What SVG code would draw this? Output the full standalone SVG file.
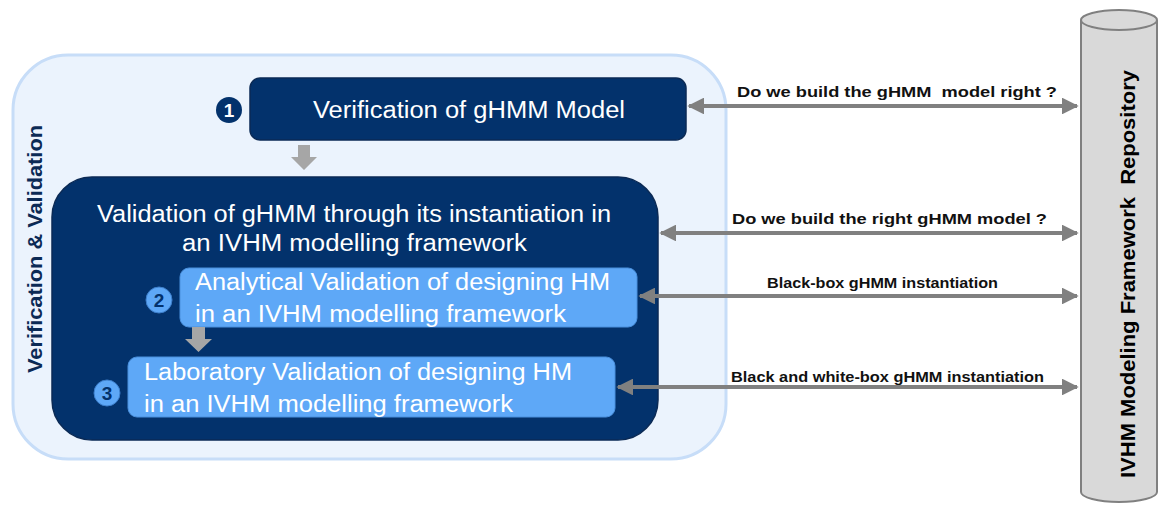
<svg xmlns="http://www.w3.org/2000/svg" width="1161" height="505" viewBox="0 0 1161 505">
<style>
.dark{fill:#03326c;stroke:#0b2a55;stroke-width:1.5}
.light{fill:#5ea8f7;stroke:#4a90dd;stroke-width:1}
.wt{font-family:"Liberation Sans",Arial,sans-serif;font-size:23px;fill:#ffffff}
.lbl{font-family:"Liberation Sans",Arial,sans-serif;font-size:15px;font-weight:bold;fill:#111111}
.conn{stroke:#808080;stroke-width:4;fill:none;marker-start:url(#ah);marker-end:url(#ah)}
.down{fill:#a6a6a6}
.num{font-family:"Liberation Sans",Arial,sans-serif;font-size:19px;font-weight:bold;text-anchor:middle}
</style>
<defs>
<marker id="ah" viewBox="0 0 10 10" refX="9" refY="5" markerWidth="4.2" markerHeight="4.2" orient="auto-start-reverse" markerUnits="strokeWidth">
<path d="M0,0 L10,5 L0,10 z" fill="#808080"/>
</marker>
</defs>
<rect width="1161" height="505" fill="#ffffff"/>
<g id="container">
<rect x="13" y="55" width="713" height="404" rx="55" ry="55" fill="#ebf3fd" stroke="#c7ddf8" stroke-width="3"/>
<text transform="translate(42,249) rotate(-90)" text-anchor="middle" font-family="Liberation Sans,Arial,sans-serif" font-size="20" font-weight="bold" fill="#0b2a55" textLength="248" lengthAdjust="spacingAndGlyphs">Verification &amp; Validation</text>
</g>
<g id="repository">
<path d="M1081,20 L1081,492 A38,10 0 0 0 1157,492 L1157,20" fill="#d9d9d9" stroke="#808080" stroke-width="2"/>
<ellipse cx="1119" cy="20" rx="38" ry="10" fill="#d9d9d9" stroke="#808080" stroke-width="2"/>
<text transform="translate(1135,274) rotate(-90)" text-anchor="middle" font-family="Liberation Sans,Arial,sans-serif" font-size="20" font-weight="bold" fill="#000000" textLength="408" lengthAdjust="spacingAndGlyphs" xml:space="preserve">IVHM Modeling Framework  Repository</text>
</g>
<g id="node1">
<rect class="dark" x="250" y="78" width="436" height="62" rx="10"/>
<text class="wt" x="313" y="118" textLength="312" lengthAdjust="spacingAndGlyphs">Verification of gHMM Model</text>
<circle cx="229" cy="110" r="13" fill="#03326c"/>
<text class="num" x="229" y="117" fill="#ffffff">1</text>
</g>
<g id="node-validation">
<rect class="dark" x="52" y="177" width="606" height="263" rx="40"/>
<text class="wt" x="97" y="222" textLength="514" lengthAdjust="spacingAndGlyphs">Validation of gHMM through its instantiation in</text>
<text class="wt" x="182" y="251" textLength="345" lengthAdjust="spacingAndGlyphs">an IVHM modelling framework</text>
</g>
<g id="node2">
<rect class="light" x="180" y="268" width="457" height="59" rx="9"/>
<text class="wt" x="195" y="290" textLength="415" lengthAdjust="spacingAndGlyphs">Analytical Validation of designing HM</text>
<text class="wt" x="195" y="322" textLength="371" lengthAdjust="spacingAndGlyphs">in an IVHM modelling framework</text>
<circle cx="159" cy="300" r="13" fill="#5ea8f7" stroke="#3d7fcc" stroke-width="1"/>
<text class="num" x="159" y="307" fill="#03326c">2</text>
</g>
<g id="node3">
<rect class="light" x="128" y="357" width="487" height="60" rx="9"/>
<text class="wt" x="144" y="380" textLength="428" lengthAdjust="spacingAndGlyphs">Laboratory Validation of designing HM</text>
<text class="wt" x="144" y="412" textLength="369" lengthAdjust="spacingAndGlyphs">in an IVHM modelling framework</text>
<circle cx="107" cy="393" r="13" fill="#5ea8f7" stroke="#3d7fcc" stroke-width="1"/>
<text class="num" x="107" y="400" fill="#03326c">3</text>
</g>
<g id="connectors">
<path class="down" d="M298,145 L310,145 L310,157 L317,157 L304,170 L291,157 L298,157 z"/>
<path class="down" d="M192,327 L205,327 L205,339 L212,339 L198.5,352 L185,339 L192,339 z"/>
<line class="conn" x1="689" y1="106" x2="1077" y2="106"/>
<line class="conn" x1="661" y1="233" x2="1077" y2="233"/>
<line class="conn" x1="640" y1="296" x2="1077" y2="296"/>
<line class="conn" x1="618" y1="387" x2="1077" y2="387"/>
<text class="lbl" x="737" y="97" textLength="320" lengthAdjust="spacingAndGlyphs" xml:space="preserve">Do we build the gHMM  model right ?</text>
<text class="lbl" x="732" y="224" textLength="315" lengthAdjust="spacingAndGlyphs">Do we build the right gHMM model ?</text>
<text class="lbl" x="767" y="288" textLength="231" lengthAdjust="spacingAndGlyphs">Black-box gHMM instantiation</text>
<text class="lbl" x="731" y="382" textLength="313" lengthAdjust="spacingAndGlyphs">Black and white-box gHMM instantiation</text>
</g>
</svg>
